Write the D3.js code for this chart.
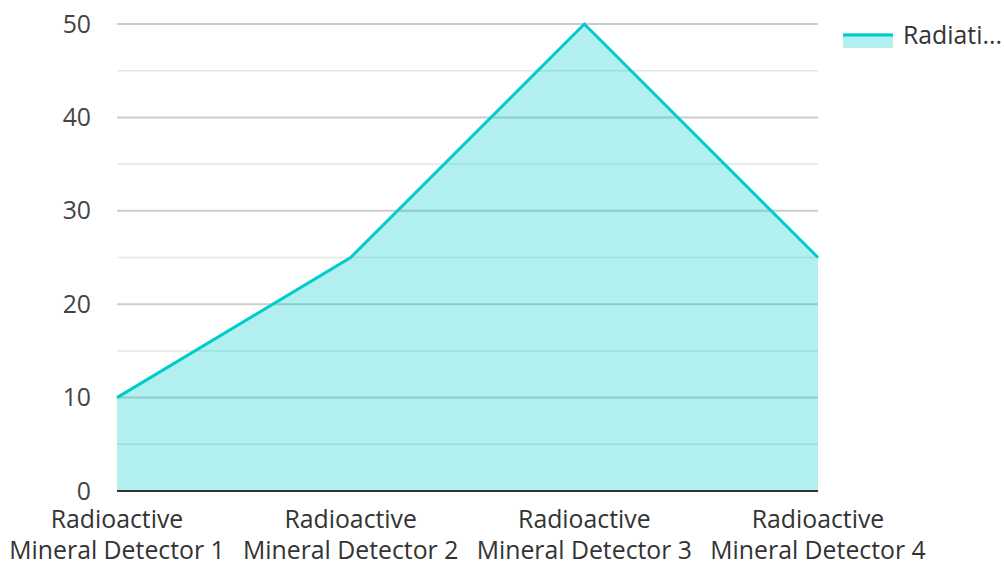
<!DOCTYPE html>
<html>
<head>
<meta charset="utf-8">
<script src="https://cdn.jsdelivr.net/npm/d3@7"></script>
<style>
  html, body { margin: 0; padding: 0; background: #fff; }
  svg { display: block; font-family: "Open Sans", "Noto Sans", sans-serif; }
</style>
</head>
<body>
<svg id="chart" width="1004" height="563"></svg>
<script>
// Readings per detector
const categories = [
  ["Radioactive", "Mineral Detector 1"],
  ["Radioactive", "Mineral Detector 2"],
  ["Radioactive", "Mineral Detector 3"],
  ["Radioactive", "Mineral Detector 4"]
];
const seriesName = "Radiation Level";
const values = [10, 25, 50, 25];
const yTicks = [0, 10, 20, 30, 40, 50];
const yMinorTicks = [5, 15, 25, 35, 45];

(function () {
  const svg = d3.select("#chart");
  const plotLeft = 117, plotRight = 818, plotTop = 24, plotBottom = 491;
  const fontSize = 24.8;

  const x = d3.scalePoint().domain(d3.range(categories.length)).range([plotLeft, plotRight]);
  const y = d3.scaleLinear().domain([0, 50]).range([plotBottom, plotTop]);

  // Grid lines
  svg.append("g").selectAll("line").data(yMinorTicks).join("line")
    .attr("x1", plotLeft).attr("x2", plotRight)
    .attr("y1", d => y(d)).attr("y2", d => y(d))
    .attr("stroke", "#e6e6e6").attr("stroke-width", 1.5);
  svg.append("g").selectAll("line").data(yTicks.filter(d => d > 0)).join("line")
    .attr("x1", plotLeft).attr("x2", plotRight)
    .attr("y1", d => y(d)).attr("y2", d => y(d))
    .attr("stroke", "#cccccc").attr("stroke-width", 2);

  // Area and line
  const area = d3.area().x((d, i) => x(i)).y0(plotBottom).y1(d => y(d));
  const line = d3.line().x((d, i) => x(i)).y(d => y(d));
  svg.append("path").datum(values).attr("d", area)
    .attr("fill", "rgba(0,204,204,0.3)");
  svg.append("path").datum(values).attr("d", line)
    .attr("fill", "none").attr("stroke", "#00cccc").attr("stroke-width", 3)
    .attr("stroke-linejoin", "miter");

  // Baseline
  svg.append("line").attr("x1", plotLeft).attr("x2", plotRight)
    .attr("y1", plotBottom).attr("y2", plotBottom)
    .attr("stroke", "#333333").attr("stroke-width", 2);

  // Y tick labels
  svg.append("g").selectAll("text").data(yTicks).join("text")
    .attr("x", 91).attr("y", d => y(d) + 8.5)
    .attr("text-anchor", "end").attr("font-size", fontSize).attr("fill", "#444")
    .text(d => d);

  // X category labels
  const xl = svg.append("g").selectAll("text").data(categories).join("text")
    .attr("text-anchor", "middle").attr("font-size", fontSize).attr("fill", "#333")
    .attr("transform", (d, i) => `translate(${x(i)},0)`);
  xl.selectAll("tspan").data(d => d).join("tspan")
    .attr("x", 0).attr("y", (d, j) => 528 + j * 30.5)
    .text(d => d);

  // Legend
  const lg = svg.append("g");
  lg.append("rect").attr("x", 843).attr("y", 33).attr("width", 50).attr("height", 15)
    .attr("fill", "rgba(0,204,204,0.3)");
  lg.append("line").attr("x1", 843).attr("x2", 893).attr("y1", 35).attr("y2", 35)
    .attr("stroke", "#00cccc").attr("stroke-width", 3);
  lg.append("text").attr("x", 903).attr("y", 44).attr("font-size", fontSize).attr("fill", "#333")
    .text(seriesName.slice(0, 7) + "...");
})();
</script>
</body>
</html>
